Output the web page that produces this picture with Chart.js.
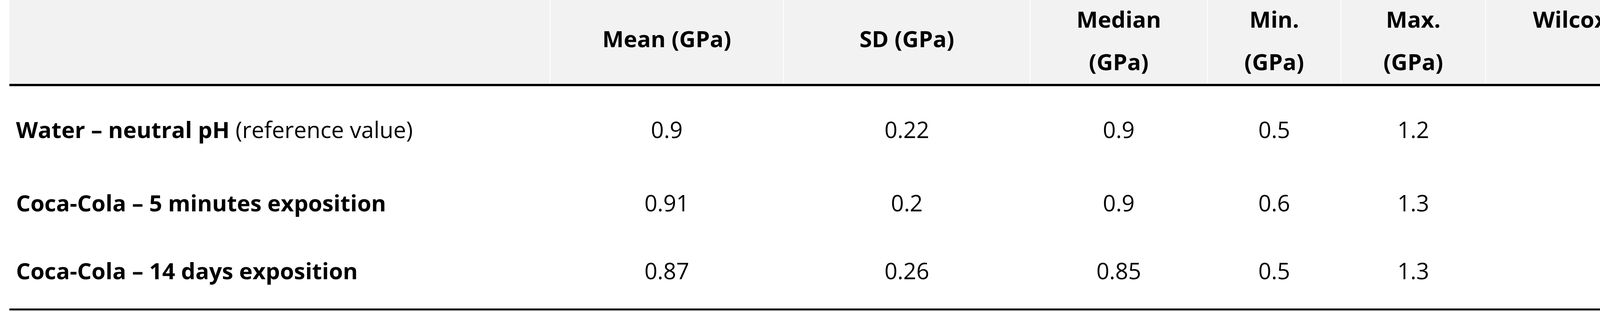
<!DOCTYPE html>
<html><head><meta charset="utf-8">
<script src="https://cdn.jsdelivr.net/npm/chart.js@4"></script>
<style>html,body{margin:0;padding:0;background:#fff;overflow:hidden}#c{display:block}</style>
</head><body><canvas id="c" width="4738" height="800" style="width:4738px;height:800px"></canvas>
<script>
// data
const rowBold = ["Water \u2013 neutral pH", "Coca-Cola \u2013 5 minutes exposition", "Coca-Cola \u2013 14 days exposition"];
const rowNote = [" (reference value)", "", ""];
const headers = [["Mean (GPa)"], ["SD (GPa)"], ["Median", "(GPa)"], ["Min.", "(GPa)"], ["Max.", "(GPa)"], ["Wilcoxon paired test (p", "value)"]];
const mean = ["0.9", "0.91", "0.87"];
const sd = ["0.22", "0.2", "0.26"];
const median = ["0.9", "0.9", "0.85"];
const minv = ["0.5", "0.6", "0.5"];
const maxv = ["1.2", "1.3", "1.3"];
const wilcoxon = ["", "1", "1"];

// layout
const colEdges = [24, 1408, 2006, 2637, 3091, 3433, 3803, 4712];
const rowY = [337, 525, 699];
const FONT = "'Open Sans', sans-serif";
const FS = 58;
const cols = [mean, sd, median, minv, maxv, wilcoxon];

const tablePlugin = {
  id: 'table',
  afterDraw(chart) {
    const ctx = chart.ctx, xs = chart.scales.x, ys = chart.scales.y;
    const X = v => xs.getPixelForValue(v), Y = v => ys.getPixelForValue(v);
    ctx.save();
    ctx.fillStyle = '#f2f2f2';
    ctx.fillRect(X(colEdges[0]), Y(0), X(colEdges[7]) - X(colEdges[0]), Y(215) - Y(0));
    ctx.strokeStyle = '#ffffff'; ctx.lineWidth = 2;
    for (let i = 1; i < 7; i++) { ctx.beginPath(); ctx.moveTo(X(colEdges[i]), Y(0)); ctx.lineTo(X(colEdges[i]), Y(215)); ctx.stroke(); }
    ctx.fillStyle = '#000';
    ctx.fillRect(X(colEdges[0]), Y(215), X(colEdges[7]) - X(colEdges[0]), 6);
    ctx.fillRect(X(colEdges[0]), Y(791), X(colEdges[7]) - X(colEdges[0]), 5);
    ctx.textBaseline = 'middle';
    ctx.textAlign = 'center';
    ctx.font = `bold ${FS}px ${FONT}`;
    headers.forEach((h, i) => {
      const cx = X((colEdges[i + 1] + colEdges[i + 2]) / 2);
      if (h.length === 1) ctx.fillText(h[0], cx, Y(104));
      else { ctx.fillText(h[0], cx, Y(54)); ctx.fillText(h[1], cx, Y(163)); }
    });
    rowBold.forEach((t, r) => {
      ctx.textAlign = 'left';
      ctx.font = `bold ${FS}px ${FONT}`;
      ctx.fillText(t, X(41), Y(rowY[r]));
      const w = ctx.measureText(t).width;
      ctx.font = `${FS}px ${FONT}`;
      ctx.fillText(rowNote[r], X(41) + w, Y(rowY[r]));
      ctx.textAlign = 'center';
      cols.forEach((c, i) => {
        const cx = X((colEdges[i + 1] + colEdges[i + 2]) / 2);
        ctx.fillText(c[r], cx, Y(rowY[r]));
      });
    });
    ctx.restore();
  }
};

new Chart(document.getElementById('c'), {
  type: 'scatter',
  data: { datasets: [{ data: cols.flatMap((c, i) => c.map((v, r) => ({ x: (colEdges[i + 1] + colEdges[i + 2]) / 2, y: rowY[r] }))), pointRadius: 0 }] },
  options: {
    responsive: false, maintainAspectRatio: false, animation: false, devicePixelRatio: 1,
    layout: { padding: 0 },
    plugins: { legend: { display: false }, tooltip: { enabled: false } },
    scales: {
      x: { type: 'linear', min: 0, max: 4738, display: false },
      y: { type: 'linear', min: 0, max: 800, reverse: true, display: false }
    }
  },
  plugins: [tablePlugin]
});
</script></body></html>
